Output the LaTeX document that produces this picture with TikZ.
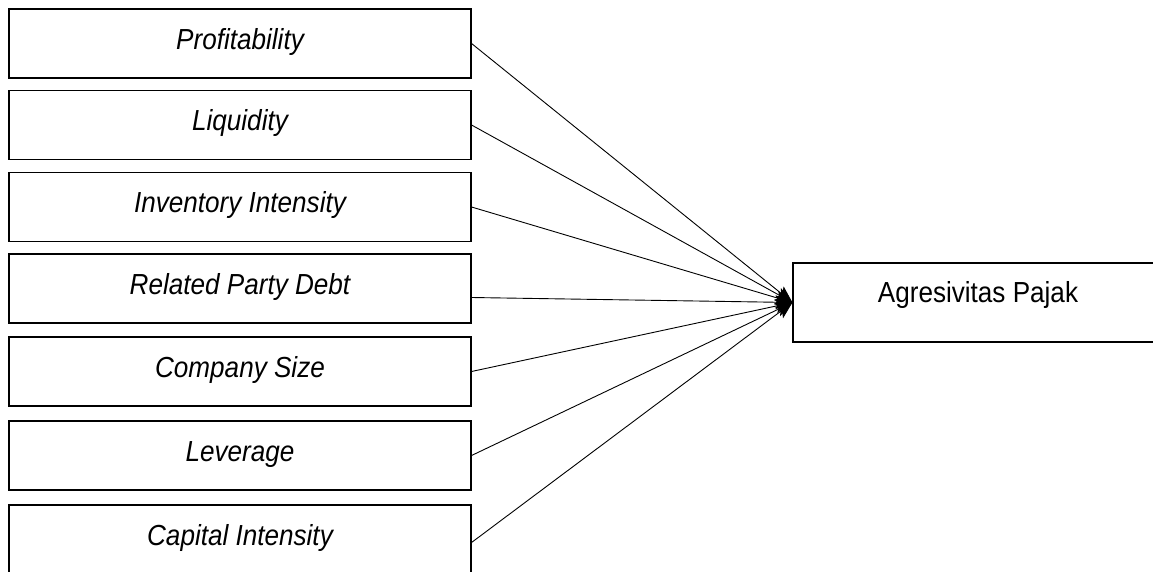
\documentclass[tikz,border=0pt]{standalone}
\usepackage{fontspec}
\setmainfont{Liberation Sans}[FakeStretch=0.9]
\usetikzlibrary{arrows.meta}

\tikzset{
  varbox/.style={draw, line width=1.1pt, minimum width=462pt, minimum height=69pt,
    inner sep=0pt, font=\fontsize{29}{33}\selectfont\itshape, text height=21pt, text depth=9.5pt},
  depbox/.style={draw, line width=1.1pt, minimum width=370pt, minimum height=79pt,
    inner sep=0pt, font=\fontsize{29}{33}\selectfont, text height=12pt, text depth=12pt},
  arr/.style={line width=0.9pt, -{Stealth[length=17pt,width=14pt,inset=4pt]}}
}

\begin{document}
\begin{tikzpicture}[x=1pt, y=-1pt]
\useasboundingbox (0,0) rectangle (1153,572);

\foreach \lbl/\ytop [count=\i] in {Profitability/9, Liquidity/90.5,
    Inventory Intensity/172.5, Related Party Debt/254, Company Size/337,
    Leverage/421, Capital Intensity/505} {
  \node[varbox] (v\i) at (240,\ytop+34.5) {\lbl};
}

\node[depbox] (ag) at (978,302.5) {Agresivitas Pajak};

\foreach \i/\dy in {1/0, 2/0, 3/0, 4/9, 5/0, 6/0, 7/3} {
  \draw[arr] ([yshift=-\dy pt]v\i.east) -- (ag.west);
}

\end{tikzpicture}
\end{document}
